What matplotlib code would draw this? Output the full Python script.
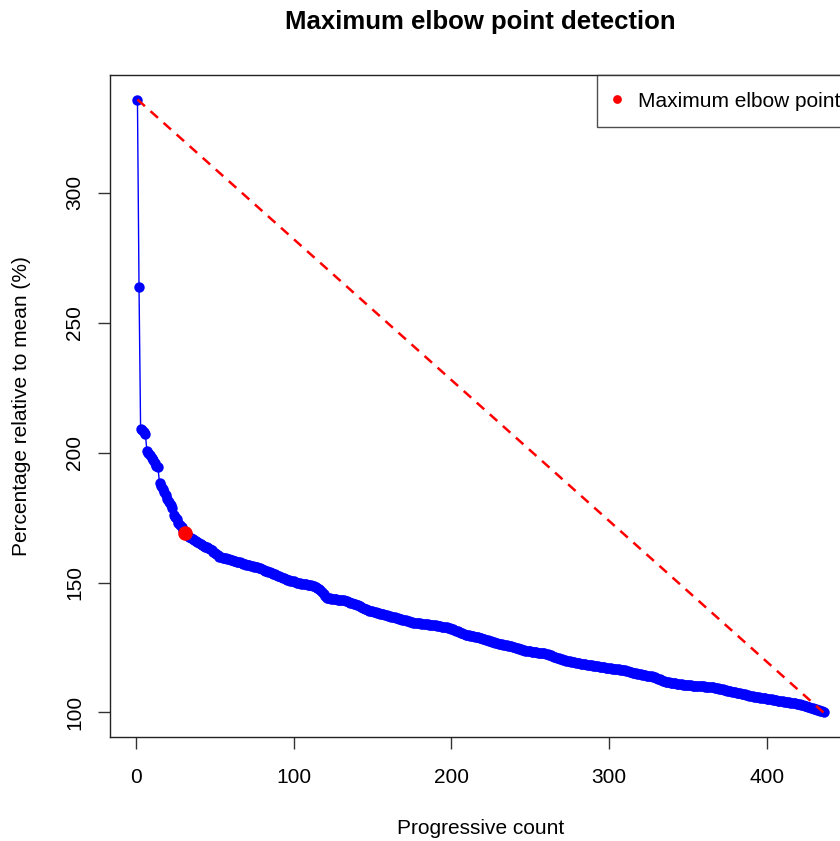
import matplotlib
matplotlib.use("Agg")
import matplotlib.pyplot as plt
import numpy as np

plt.rcParams['font.family'] = ['Liberation Sans', 'DejaVu Sans']

# valeurs (triees, decroissantes)
percentages = [
    335.8, 263.5, 209.2, 208.6, 207.9, 207.3, 200.6, 199.9, 199.0, 197.9,
    197.0, 195.9, 195.0, 194.3, 188.2, 187.3, 186.0, 184.7, 183.6, 182.1,
    181.0, 179.9, 178.5, 176.0, 175.2, 174.3, 173.0, 172.2, 171.4, 170.2,
    169.1, 168.5, 167.9, 167.4, 167.0, 166.6, 166.3, 165.9, 165.6, 165.2,
    164.9, 164.5, 164.2, 163.8, 163.5, 163.2, 162.9, 162.4, 161.9, 161.3,
    160.8, 160.4, 160.0, 159.8, 159.6, 159.5, 159.3, 159.1, 158.9, 158.7,
    158.5, 158.3, 158.1, 157.9, 157.8, 157.7, 157.5, 157.3, 157.1, 156.9,
    156.7, 156.6, 156.4, 156.3, 156.1, 156.0, 155.9, 155.6, 155.4, 155.1,
    154.9, 154.6, 154.4, 154.1, 153.9, 153.6, 153.4, 153.1, 152.9, 152.6,
    152.4, 152.1, 151.9, 151.6, 151.4, 151.1, 150.9, 150.7, 150.5, 150.4,
    150.2, 150.0, 149.9, 149.7, 149.6, 149.5, 149.4, 149.3, 149.2, 149.1,
    149.0, 148.8, 148.5, 148.2, 147.9, 147.6, 147.0, 146.2, 145.4, 144.7,
    144.1, 144.0, 143.9, 143.8, 143.7, 143.6, 143.5, 143.4, 143.3, 143.2,
    143.2, 143.1, 143.0, 142.8, 142.5, 142.3, 142.0, 141.8, 141.6, 141.4,
    141.2, 140.9, 140.6, 140.3, 140.0, 139.7, 139.4, 139.2, 139.0, 138.9,
    138.7, 138.5, 138.4, 138.2, 138.0, 137.9, 137.8, 137.6, 137.5, 137.3,
    137.1, 136.9, 136.8, 136.6, 136.4, 136.2, 136.1, 135.9, 135.7, 135.5,
    135.4, 135.2, 135.0, 134.9, 134.7, 134.6, 134.5, 134.4, 134.4, 134.3,
    134.2, 134.1, 134.0, 134.0, 133.9, 133.8, 133.7, 133.7, 133.6, 133.5,
    133.4, 133.3, 133.2, 133.0, 132.9, 132.8, 132.7, 132.5, 132.4, 132.2,
    132.0, 131.7, 131.5, 131.2, 131.0, 130.7, 130.4, 130.1, 129.9, 129.8,
    129.7, 129.6, 129.5, 129.3, 129.2, 129.1, 129.0, 128.8, 128.6, 128.4,
    128.2, 128.0, 127.8, 127.6, 127.4, 127.2, 127.0, 126.8, 126.6, 126.4,
    126.3, 126.2, 126.0, 125.9, 125.8, 125.7, 125.5, 125.4, 125.3, 125.1,
    124.9, 124.7, 124.5, 124.3, 124.1, 124.0, 123.8, 123.7, 123.6, 123.5,
    123.4, 123.3, 123.2, 123.1, 123.0, 122.9, 122.8, 122.7, 122.7, 122.6,
    122.4, 122.2, 122.0, 121.8, 121.5, 121.3, 121.1, 120.9, 120.7, 120.4,
    120.2, 120.0, 119.9, 119.8, 119.7, 119.5, 119.4, 119.3, 119.1, 119.0,
    118.9, 118.8, 118.7, 118.6, 118.5, 118.4, 118.3, 118.2, 118.1, 118.0,
    117.9, 117.8, 117.7, 117.6, 117.5, 117.4, 117.4, 117.3, 117.2, 117.1,
    117.0, 116.9, 116.8, 116.8, 116.7, 116.6, 116.5, 116.4, 116.3, 116.2,
    116.0, 115.8, 115.7, 115.5, 115.3, 115.2, 115.0, 114.9, 114.8, 114.7,
    114.6, 114.5, 114.3, 114.2, 114.1, 114.0, 113.9, 113.7, 113.6, 113.3,
    113.0, 112.8, 112.5, 112.3, 112.1, 111.9, 111.7, 111.6, 111.5, 111.4,
    111.3, 111.2, 111.1, 111.0, 110.9, 110.8, 110.7, 110.6, 110.6, 110.5,
    110.4, 110.4, 110.3, 110.3, 110.2, 110.2, 110.1, 110.1, 110.0, 110.0,
    109.9, 109.9, 109.8, 109.8, 109.7, 109.7, 109.6, 109.5, 109.3, 109.2,
    109.0, 108.9, 108.7, 108.6, 108.4, 108.3, 108.2, 108.0, 107.9, 107.8,
    107.6, 107.5, 107.4, 107.2, 107.1, 107.0, 106.8, 106.7, 106.5, 106.4,
    106.3, 106.1, 106.0, 105.9, 105.8, 105.7, 105.6, 105.5, 105.4, 105.3,
    105.2, 105.1, 105.0, 104.9, 104.8, 104.7, 104.6, 104.5, 104.4, 104.3,
    104.2, 104.1, 104.0, 103.9, 103.8, 103.7, 103.6, 103.5, 103.4, 103.3,
    103.1, 103.0, 102.8, 102.6, 102.4, 102.2, 102.0, 101.8, 101.7, 101.5,
    101.3, 101.1, 100.9, 100.7, 100.4, 100.0,
]
elbow_index = 31
x_ticks = [0, 100, 200, 300, 400]
y_ticks = [100, 150, 200, 250, 300]


def main():
    counts = np.arange(1, len(percentages) + 1)
    values = np.array(percentages)

    W, H = 840, 841
    fig = plt.figure(figsize=(W / 100, H / 100), dpi=100)
    # la zone de trace depasse a droite, comme sur l'image d'origine
    left, right, top, bottom = 110, 851, 75, 737
    ax = fig.add_axes([left / W, 1 - bottom / H, (right - left) / W, (bottom - top) / H])

    ax.plot(counts, values, color='blue', lw=1.0, marker='o', markersize=7.5,
            markeredgewidth=0, zorder=2)
    ax.plot([counts[0], counts[-1]], [values[0], values[-1]], color='red', lw=1.8,
            dashes=(4, 3), zorder=3)
    ax.plot(counts[elbow_index - 1], values[elbow_index - 1], 'o', color='red',
            markersize=10.5, markeredgewidth=0, zorder=4, label='Maximum elbow point')

    span_x = counts[-1] - counts[0]
    span_y = values.max() - values.min()
    ax.set_xlim(counts[0] - 0.04 * span_x, counts[-1] + 0.04 * span_x)
    ax.set_ylim(values.min() - 0.04 * span_y, values.max() + 0.04 * span_y)

    ax.set_xticks(x_ticks)
    ax.set_yticks(y_ticks)
    ax.tick_params(axis='both', length=8.6, width=1, color='#333333', labelsize=15)
    ax.tick_params(axis='x', pad=14)
    ax.tick_params(axis='y', pad=10)
    for lab in ax.get_yticklabels():
        lab.set_rotation(90)
        lab.set_va('center')
    for sp in ax.spines.values():
        sp.set_linewidth(1.0)
        sp.set_color('#222222')

    ax.set_xlabel('Progressive count', fontsize=15)
    ax.set_ylabel('Percentage relative to mean (%)', fontsize=15)
    ax.xaxis.set_label_coords(0.5, -(828 - bottom) / (bottom - top))
    ax.yaxis.set_label_coords(-(left - 22) / (right - left), 0.5)
    ax.xaxis.label.set_va('center')
    ax.yaxis.label.set_va('center')

    fig.text((left + right) / 2 / W, 1 - 22 / H, 'Maximum elbow point detection',
             ha='center', va='center', fontsize=18.5, fontweight='bold')

    leg = ax.legend(loc='upper right', bbox_to_anchor=(1 + 6 / (right - left), 1),
                    fontsize=15, frameon=True, fancybox=False,
                    borderaxespad=0, handletextpad=0.9, borderpad=0.8,
                    handlelength=0.25, markerscale=0.6)
    leg.get_frame().set_edgecolor('#222222')
    leg.get_frame().set_linewidth(1.0)

    fig.savefig('out.png', dpi=100)


if __name__ == '__main__':
    main()
